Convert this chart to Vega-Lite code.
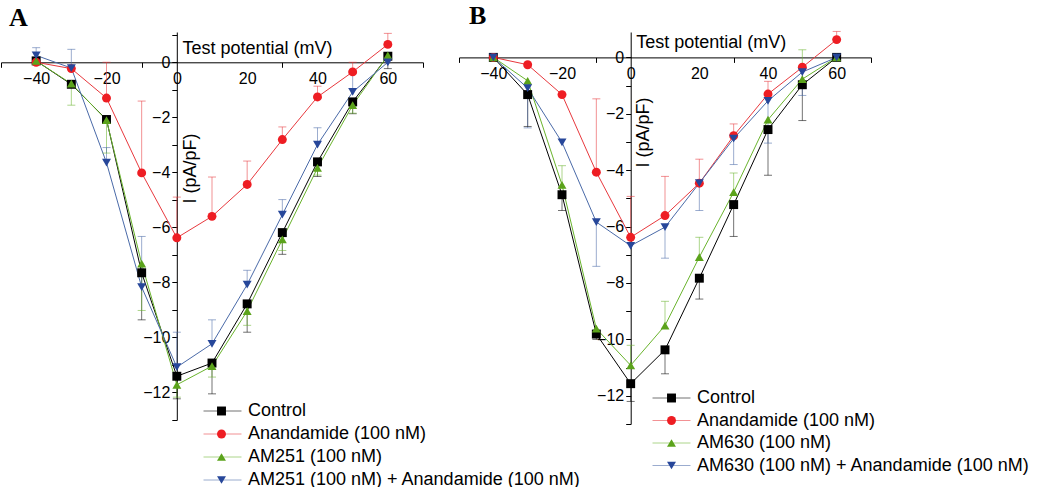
{
  "$schema": "https://vega.github.io/schema/vega-lite/v6.json",
  "background": "white",
  "padding": {"left": 0, "top": 3, "right": 0, "bottom": 0},
  "config": {
    "font": "Liberation Sans",
    "view": {"stroke": null},
    "axis": {"grid": false, "domainColor": "black", "tickColor": "black", "labelColor": "black", "titleColor": "black", "labelFontSize": 16, "titleFontSize": 18, "titleFontWeight": "normal", "labelFont": "Liberation Sans", "titleFont": "Liberation Sans"},
    "legend": {"labelFont": "Liberation Sans", "labelFontSize": 18, "labelColor": "black", "labelLimit": 600, "padding": 0}
  },
  "datasets": {
    "A": [
      {"series": "Control", "mV": -40, "I": 0.05, "e": null},
      {"series": "Control", "mV": -30, "I": -0.8, "e": null},
      {"series": "Control", "mV": -20, "I": -2.08, "e": null},
      {"series": "Control", "mV": -10, "I": -7.65, "e": -9.36},
      {"series": "Control", "mV": 0, "I": -11.41, "e": -12.23},
      {"series": "Control", "mV": 10, "I": -10.93, "e": -12.05},
      {"series": "Control", "mV": 20, "I": -8.78, "e": -9.81},
      {"series": "Control", "mV": 30, "I": -6.19, "e": -6.98},
      {"series": "Control", "mV": 40, "I": -3.62, "e": -4.15},
      {"series": "Control", "mV": 50, "I": -1.44, "e": -1.87},
      {"series": "Control", "mV": 60, "I": 0.22, "e": -0.23},
      {"series": "Anandamide (100 nM)", "mV": -40, "I": 0.0, "e": null},
      {"series": "Anandamide (100 nM)", "mV": -30, "I": -0.23, "e": null},
      {"series": "Anandamide (100 nM)", "mV": -20, "I": -1.3, "e": 0.0},
      {"series": "Anandamide (100 nM)", "mV": -10, "I": -4.02, "e": -1.41},
      {"series": "Anandamide (100 nM)", "mV": 0, "I": -6.38, "e": -4.9},
      {"series": "Anandamide (100 nM)", "mV": 10, "I": -5.6, "e": -4.17},
      {"series": "Anandamide (100 nM)", "mV": 20, "I": -4.44, "e": -3.59},
      {"series": "Anandamide (100 nM)", "mV": 30, "I": -2.81, "e": -2.35},
      {"series": "Anandamide (100 nM)", "mV": 40, "I": -1.26, "e": -0.87},
      {"series": "Anandamide (100 nM)", "mV": 50, "I": -0.35, "e": 0.0},
      {"series": "Anandamide (100 nM)", "mV": 60, "I": 0.65, "e": 1.05},
      {"series": "AM251 (100 nM)", "mV": -40, "I": 0.05, "e": null},
      {"series": "AM251 (100 nM)", "mV": -30, "I": -0.78, "e": -1.56},
      {"series": "AM251 (100 nM)", "mV": -20, "I": -2.1, "e": -3.3},
      {"series": "AM251 (100 nM)", "mV": -10, "I": -7.32, "e": -9.02},
      {"series": "AM251 (100 nM)", "mV": 0, "I": -11.72, "e": -12.17},
      {"series": "AM251 (100 nM)", "mV": 10, "I": -11.04, "e": -11.44},
      {"series": "AM251 (100 nM)", "mV": 20, "I": -9.04, "e": -9.56},
      {"series": "AM251 (100 nM)", "mV": 30, "I": -6.44, "e": -6.84},
      {"series": "AM251 (100 nM)", "mV": 40, "I": -3.84, "e": -4.1},
      {"series": "AM251 (100 nM)", "mV": 50, "I": -1.56, "e": -1.85},
      {"series": "AM251 (100 nM)", "mV": 60, "I": 0.25, "e": null},
      {"series": "AM251 (100 nM) + Anandamide (100 nM)", "mV": -40, "I": 0.25, "e": 0.53},
      {"series": "AM251 (100 nM) + Anandamide (100 nM)", "mV": -30, "I": -0.21, "e": 0.47},
      {"series": "AM251 (100 nM) + Anandamide (100 nM)", "mV": -20, "I": -3.65, "e": -3.1},
      {"series": "AM251 (100 nM) + Anandamide (100 nM)", "mV": -10, "I": -8.17, "e": -6.33},
      {"series": "AM251 (100 nM) + Anandamide (100 nM)", "mV": 0, "I": -11.08, "e": -9.81},
      {"series": "AM251 (100 nM) + Anandamide (100 nM)", "mV": 10, "I": -10.23, "e": -9.36},
      {"series": "AM251 (100 nM) + Anandamide (100 nM)", "mV": 20, "I": -8.08, "e": -7.56},
      {"series": "AM251 (100 nM) + Anandamide (100 nM)", "mV": 30, "I": -5.54, "e": -4.99},
      {"series": "AM251 (100 nM) + Anandamide (100 nM)", "mV": 40, "I": -2.99, "e": -2.38},
      {"series": "AM251 (100 nM) + Anandamide (100 nM)", "mV": 50, "I": -1.08, "e": -0.35},
      {"series": "AM251 (100 nM) + Anandamide (100 nM)", "mV": 60, "I": 0.0, "e": null}
    ],
    "B": [
      {"series": "Control", "mV": -40, "I": 0.0, "e": null},
      {"series": "Control", "mV": -30, "I": -1.32, "e": -2.45},
      {"series": "Control", "mV": -20, "I": -4.87, "e": -5.43},
      {"series": "Control", "mV": -10, "I": -9.81, "e": -10.0},
      {"series": "Control", "mV": 0, "I": -11.57, "e": -12.2},
      {"series": "Control", "mV": 10, "I": -10.37, "e": -11.22},
      {"series": "Control", "mV": 20, "I": -7.83, "e": -8.57},
      {"series": "Control", "mV": 30, "I": -5.22, "e": -6.35},
      {"series": "Control", "mV": 40, "I": -2.56, "e": -4.18},
      {"series": "Control", "mV": 50, "I": -0.97, "e": -2.24},
      {"series": "Control", "mV": 60, "I": 0.0, "e": null},
      {"series": "Anandamide (100 nM)", "mV": -40, "I": 0.0, "e": null},
      {"series": "Anandamide (100 nM)", "mV": -30, "I": -0.26, "e": null},
      {"series": "Anandamide (100 nM)", "mV": -20, "I": -1.32, "e": null},
      {"series": "Anandamide (100 nM)", "mV": -10, "I": -4.07, "e": -1.47},
      {"series": "Anandamide (100 nM)", "mV": 0, "I": -6.38, "e": -4.93},
      {"series": "Anandamide (100 nM)", "mV": 10, "I": -5.61, "e": -4.22},
      {"series": "Anandamide (100 nM)", "mV": 20, "I": -4.46, "e": -3.61},
      {"series": "Anandamide (100 nM)", "mV": 30, "I": -2.78, "e": -2.36},
      {"series": "Anandamide (100 nM)", "mV": 40, "I": -1.3, "e": -0.85},
      {"series": "Anandamide (100 nM)", "mV": 50, "I": -0.35, "e": null},
      {"series": "Anandamide (100 nM)", "mV": 60, "I": 0.63, "e": 0.92},
      {"series": "AM630 (100 nM)", "mV": -40, "I": 0.0, "e": null},
      {"series": "AM630 (100 nM)", "mV": -30, "I": -0.83, "e": null},
      {"series": "AM630 (100 nM)", "mV": -20, "I": -4.52, "e": -3.84},
      {"series": "AM630 (100 nM)", "mV": -10, "I": -9.62, "e": null},
      {"series": "AM630 (100 nM)", "mV": 0, "I": -10.92, "e": -10.21},
      {"series": "AM630 (100 nM)", "mV": 10, "I": -9.51, "e": -8.65},
      {"series": "AM630 (100 nM)", "mV": 20, "I": -7.08, "e": -6.38},
      {"series": "AM630 (100 nM)", "mV": 30, "I": -4.78, "e": -4.1},
      {"series": "AM630 (100 nM)", "mV": 40, "I": -2.21, "e": null},
      {"series": "AM630 (100 nM)", "mV": 50, "I": -0.77, "e": 0.27},
      {"series": "AM630 (100 nM)", "mV": 60, "I": 0.0, "e": null},
      {"series": "AM630 (100 nM) + Anandamide (100 nM)", "mV": -40, "I": 0.0, "e": null},
      {"series": "AM630 (100 nM) + Anandamide (100 nM)", "mV": -30, "I": -1.09, "e": -2.5},
      {"series": "AM630 (100 nM) + Anandamide (100 nM)", "mV": -20, "I": -3.01, "e": null},
      {"series": "AM630 (100 nM) + Anandamide (100 nM)", "mV": -10, "I": -5.84, "e": -7.41},
      {"series": "AM630 (100 nM) + Anandamide (100 nM)", "mV": 0, "I": -6.68, "e": null},
      {"series": "AM630 (100 nM) + Anandamide (100 nM)", "mV": 10, "I": -6.02, "e": -7.12},
      {"series": "AM630 (100 nM) + Anandamide (100 nM)", "mV": 20, "I": -4.46, "e": -5.43},
      {"series": "AM630 (100 nM) + Anandamide (100 nM)", "mV": 30, "I": -2.88, "e": -3.8},
      {"series": "AM630 (100 nM) + Anandamide (100 nM)", "mV": 40, "I": -1.54, "e": -3.04},
      {"series": "AM630 (100 nM) + Anandamide (100 nM)", "mV": 50, "I": -0.52, "e": -1.35},
      {"series": "AM630 (100 nM) + Anandamide (100 nM)", "mV": 60, "I": 0.0, "e": null}
    ]
  },
  "spacing": 36,
  "bounds": "flush",
  "resolve": {"scale": {"stroke": "independent", "fill": "independent", "shape": "independent"}, "legend": {"stroke": "independent", "fill": "independent", "shape": "independent"}},
  "hconcat": [
    {
      "width": 422,
      "height": 388,
      "title": {"text": "A", "anchor": "start", "frame": "group", "font": "Liberation Serif", "fontSize": 26, "fontWeight": "bold", "color": "black", "offset": 0, "dx": 8},
      "data": {"name": "A"},
      "resolve": {"axis": {"x": "independent", "y": "independent"}},
      "layer": [
        {
          "mark": {"type": "line", "strokeWidth": 1},
          "encoding": {
            "x": {"field": "mV", "type": "quantitative", "scale": {"domain": [-50, 70], "nice": false, "zero": false},
              "axis": {"orient": "bottom", "offset": -357.7, "values": [-40, -20, 0, 20, 40, 60], "ticks": false, "domain": true, "labelPadding": 8, "labelFlush": false, "labelOverlap": false,
                "title": "Test potential (mV)", "titleX": 181, "titleY": -9, "titleAlign": "left", "titleBaseline": "alphabetic"}},
            "y": {"field": "I", "type": "quantitative", "scale": {"domain": [-13, 1.1], "nice": false, "zero": false},
              "axis": {"orient": "left", "offset": -175.8, "values": [-12, -10, -8, -6, -4, -2, 0], "tickSize": 5, "labelPadding": 2, "labelFlush": false, "labelOverlap": false, "domain": true,
                "title": "I (pA/pF)", "titleX": 14, "titleY": 136, "titleAngle": -90, "titleAlign": "center", "titleBaseline": "middle"}},
            "stroke": {"field": "series", "type": "nominal", "sort": ["Control", "Anandamide (100 nM)", "AM251 (100 nM)", "AM251 (100 nM) + Anandamide (100 nM)"],
              "scale": {"range": ["#000000", "#e8383d", "#6ab42d", "#4a6aa8"]},
              "legend": {"orient": "none", "legendX": 212.5, "legendY": 370, "title": null, "symbolType": "M-4,0H4", "symbolSize": 90, "symbolStrokeWidth": 1, "symbolOpacity": 1, "labelExpr": "' '", "labelOpacity": 0, "rowPadding": 5, "labelOffset": 4}}
          }
        },
        {
          "transform": [{"filter": "isValid(datum.e)"}],
          "mark": {"type": "rule", "strokeWidth": 1, "opacity": 0.55},
          "encoding": {
            "x": {"field": "mV", "type": "quantitative", "axis": {"orient": "bottom", "offset": -357.7, "values": [-50, -10, 30, 70], "labels": false, "domain": false, "ticks": true, "tickSize": 5, "title": null}},
            "y": {"field": "I", "type": "quantitative", "axis": {"orient": "left", "offset": -175.8, "values": [-13, -11, -9, -7, -5, -3, -1, 1], "labels": false, "domain": false, "ticks": true, "tickSize": 5, "title": null}},
            "y2": {"field": "e"},
            "stroke": {"field": "series", "type": "nominal", "sort": ["Control", "Anandamide (100 nM)", "AM251 (100 nM)", "AM251 (100 nM) + Anandamide (100 nM)"]}
          }
        },
        {
          "transform": [{"filter": "isValid(datum.e)"}],
          "mark": {"type": "point", "shape": "stroke", "size": 64, "strokeWidth": 1, "filled": false, "opacity": 0.55},
          "encoding": {
            "x": {"field": "mV", "type": "quantitative", "axis": null},
            "y": {"field": "e", "type": "quantitative", "axis": null},
            "stroke": {"field": "series", "type": "nominal", "sort": ["Control", "Anandamide (100 nM)", "AM251 (100 nM)", "AM251 (100 nM) + Anandamide (100 nM)"]}
          }
        },
        {
          "mark": {"type": "point", "filled": true, "size": 80, "opacity": 1},
          "encoding": {
            "x": {"field": "mV", "type": "quantitative", "axis": null},
            "y": {"field": "I", "type": "quantitative", "axis": null},
            "fill": {"field": "series", "type": "nominal", "scale": {"domain": ["Control", "Anandamide (100 nM)", "AM251 (100 nM)", "AM251 (100 nM) + Anandamide (100 nM)"], "range": ["#000000", "#ee1d23", "#5ba31b", "#27479a"]},
              "legend": {"orient": "none", "legendX": 211.5, "legendY": 370, "title": null, "symbolSize": 80, "symbolStrokeWidth": 0, "symbolOpacity": 1, "rowPadding": 5, "labelOffset": 17.5}},
            "shape": {"field": "series", "type": "nominal", "scale": {"domain": ["Control", "Anandamide (100 nM)", "AM251 (100 nM)", "AM251 (100 nM) + Anandamide (100 nM)"], "range": ["square", "circle", "triangle-up", "triangle-down"]},
              "legend": {"orient": "none", "legendX": 211.5, "legendY": 370, "title": null, "symbolSize": 80, "symbolStrokeWidth": 0, "symbolOpacity": 1, "rowPadding": 5, "labelOffset": 17.5}}
          }
        }
      ]
    },
    {
      "width": 412,
      "height": 392,
      "title": {"text": "B", "anchor": "start", "frame": "group", "font": "Liberation Serif", "fontSize": 26, "fontWeight": "bold", "color": "black", "offset": 0, "dx": 10},
      "data": {"name": "B"},
      "resolve": {"axis": {"x": "independent", "y": "independent"}},
      "layer": [
        {
          "mark": {"type": "line", "strokeWidth": 1},
          "encoding": {
            "x": {"field": "mV", "type": "quantitative", "scale": {"domain": [-50, 70], "nice": false, "zero": false},
              "axis": {"orient": "bottom", "offset": -366.6, "values": [-40, -20, 0, 20, 40, 60], "ticks": false, "domain": true, "labelPadding": 8, "labelFlush": false, "labelOverlap": false,
                "title": "Test potential (mV)", "titleX": 176.7, "titleY": -10, "titleAlign": "left", "titleBaseline": "alphabetic"}},
            "y": {"field": "I", "type": "quantitative", "scale": {"domain": [-13, 0.9], "nice": false, "zero": false},
              "axis": {"orient": "left", "offset": -171.7, "values": [-12, -10, -8, -6, -4, -2, 0], "tickSize": 5, "labelPadding": 2, "labelFlush": false, "labelOverlap": false, "domain": true,
                "title": "I (pA/pF)", "titleX": 13, "titleY": 100, "titleAngle": -90, "titleAlign": "center", "titleBaseline": "middle"}},
            "stroke": {"field": "series", "type": "nominal", "sort": ["Control", "Anandamide (100 nM)", "AM630 (100 nM)", "AM630 (100 nM) + Anandamide (100 nM)"],
              "scale": {"range": ["#000000", "#e8383d", "#6ab42d", "#4a6aa8"]},
              "legend": {"orient": "none", "legendX": 203.5, "legendY": 357, "title": null, "symbolType": "M-4,0H4", "symbolSize": 90, "symbolStrokeWidth": 1, "symbolOpacity": 1, "labelExpr": "' '", "labelOpacity": 0, "rowPadding": 4.5, "labelOffset": 4}}
          }
        },
        {
          "transform": [{"filter": "isValid(datum.e)"}],
          "mark": {"type": "rule", "strokeWidth": 1, "opacity": 0.55},
          "encoding": {
            "x": {"field": "mV", "type": "quantitative", "axis": {"orient": "bottom", "offset": -366.6, "values": [-50, -10, 30, 70], "labels": false, "domain": false, "ticks": true, "tickSize": 5, "title": null}},
            "y": {"field": "I", "type": "quantitative", "axis": {"orient": "left", "offset": -171.7, "values": [-13, -11, -9, -7, -5, -3, -1], "labels": false, "domain": false, "ticks": true, "tickSize": 5, "title": null}},
            "y2": {"field": "e"},
            "stroke": {"field": "series", "type": "nominal", "sort": ["Control", "Anandamide (100 nM)", "AM630 (100 nM)", "AM630 (100 nM) + Anandamide (100 nM)"]}
          }
        },
        {
          "transform": [{"filter": "isValid(datum.e)"}],
          "mark": {"type": "point", "shape": "stroke", "size": 64, "strokeWidth": 1, "filled": false, "opacity": 0.55},
          "encoding": {
            "x": {"field": "mV", "type": "quantitative", "axis": null},
            "y": {"field": "e", "type": "quantitative", "axis": null},
            "stroke": {"field": "series", "type": "nominal", "sort": ["Control", "Anandamide (100 nM)", "AM630 (100 nM)", "AM630 (100 nM) + Anandamide (100 nM)"]}
          }
        },
        {
          "mark": {"type": "point", "filled": true, "size": 80, "opacity": 1},
          "encoding": {
            "x": {"field": "mV", "type": "quantitative", "axis": null},
            "y": {"field": "I", "type": "quantitative", "axis": null},
            "fill": {"field": "series", "type": "nominal", "scale": {"domain": ["Control", "Anandamide (100 nM)", "AM630 (100 nM)", "AM630 (100 nM) + Anandamide (100 nM)"], "range": ["#000000", "#ee1d23", "#5ba31b", "#27479a"]},
              "legend": {"orient": "none", "legendX": 203.5, "legendY": 357, "title": null, "symbolSize": 80, "symbolStrokeWidth": 0, "symbolOpacity": 1, "rowPadding": 4.5, "labelOffset": 16.5}},
            "shape": {"field": "series", "type": "nominal", "scale": {"domain": ["Control", "Anandamide (100 nM)", "AM630 (100 nM)", "AM630 (100 nM) + Anandamide (100 nM)"], "range": ["square", "circle", "triangle-up", "triangle-down"]},
              "legend": {"orient": "none", "legendX": 203.5, "legendY": 357, "title": null, "symbolSize": 80, "symbolStrokeWidth": 0, "symbolOpacity": 1, "rowPadding": 4.5, "labelOffset": 16.5}}
          }
        }
      ]
    }
  ]
}
